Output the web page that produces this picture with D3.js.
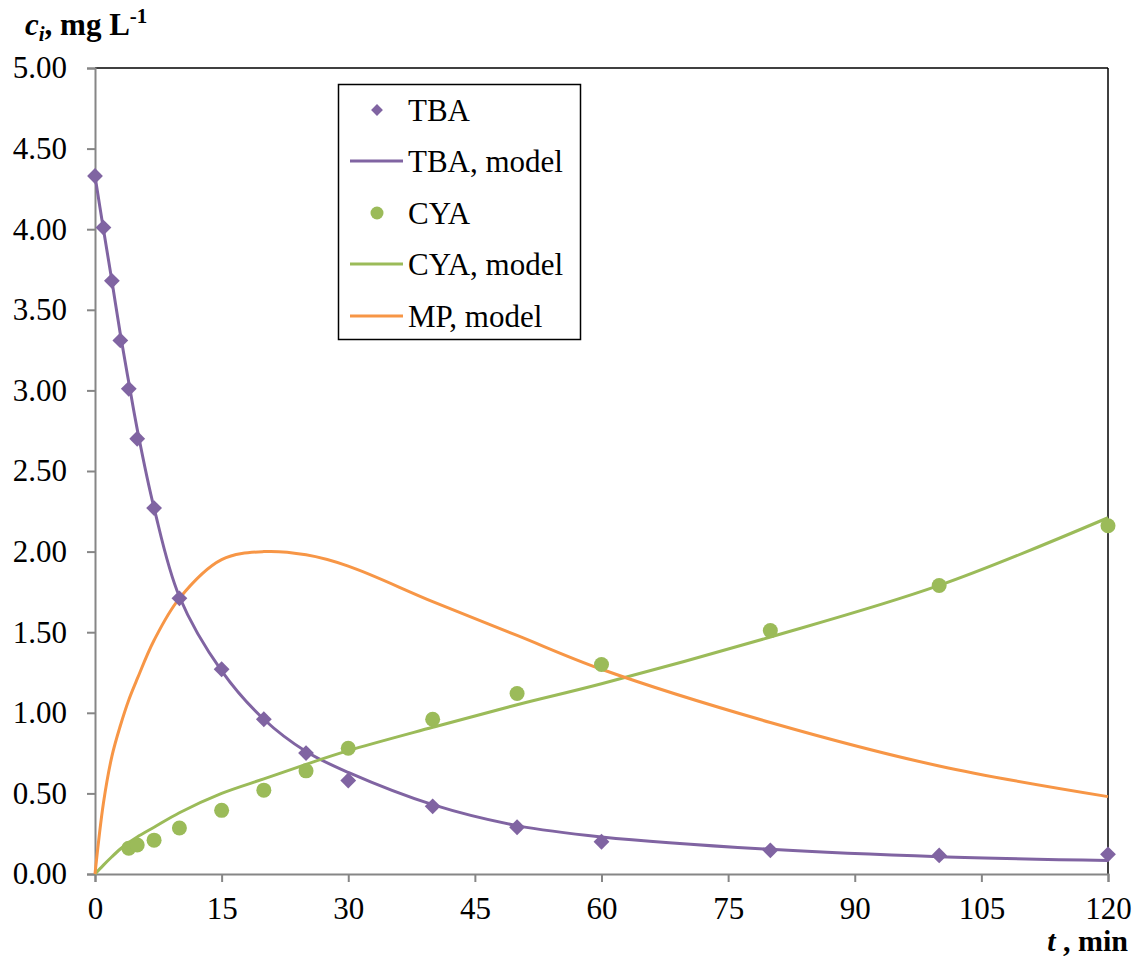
<!DOCTYPE html>
<html>
<head>
<meta charset="utf-8">
<script src="https://cdn.jsdelivr.net/npm/d3@7"></script>
<style>
  html, body { margin: 0; padding: 0; background: #fff; }
  svg { display: block; }
  text { font-family: "Liberation Serif", "Times New Roman", serif; fill: #000; }
</style>
</head>
<body>
<svg id="chart" width="1144" height="956"></svg>
<script>
// ---- Data ----
const xTicks = [0, 15, 30, 45, 60, 75, 90, 105, 120];
const yTicks = [0, 0.5, 1, 1.5, 2, 2.5, 3, 3.5, 4, 4.5, 5];

const tbaTimes = [0, 1, 2, 3, 4, 5, 7, 10, 15, 20, 25, 30, 40, 50, 60, 80, 100, 120];
const tbaValues = [4.33, 4.01, 3.68, 3.31, 3.01, 2.70, 2.27, 1.71, 1.27, 0.96, 0.75, 0.58, 0.42, 0.29, 0.20, 0.147, 0.115, 0.122];

const cyaTimes = [4, 5, 7, 10, 15, 20, 25, 30, 40, 50, 60, 80, 100, 120];
const cyaValues = [0.16, 0.18, 0.21, 0.285, 0.395, 0.52, 0.64, 0.78, 0.96, 1.12, 1.30, 1.51, 1.79, 2.16];

const modelTimes = [0, 1, 2, 3, 4, 5, 7, 10, 15, 20, 25, 30, 40, 50, 60, 80, 100, 120];
const tbaModel = [4.33, 4.00, 3.68, 3.35, 3.05, 2.76, 2.27, 1.72, 1.26, 0.96, 0.76, 0.63, 0.43, 0.30, 0.23, 0.153, 0.107, 0.083];
const cyaModel = [0, 0.055, 0.107, 0.155, 0.195, 0.23, 0.29, 0.38, 0.50, 0.59, 0.68, 0.765, 0.91, 1.05, 1.18, 1.47, 1.79, 2.21];
const mpModel = [0, 0.44, 0.73, 0.92, 1.08, 1.21, 1.45, 1.71, 1.95, 2.00, 1.98, 1.91, 1.69, 1.48, 1.27, 0.94, 0.67, 0.48];

const legendLabels = ["TBA", "TBA, model", "CYA", "CYA, model", "MP, model"];

// ---- Styles ----
const PURPLE = "#8064A2", GREEN = "#9BBB59", ORANGE = "#F79646", AXIS = "#868686";
const FONT = "'Liberation Serif', 'Times New Roman', serif";

const svg = d3.select("#chart");
const L = 95, R = 1108, T = 68, B = 874;

const x = d3.scaleLinear().domain([0, 120]).range([L, R]);
const y = d3.scaleLinear().domain([0, 5]).range([B, T]);

// Plot frame: top & right black
svg.append("line").attr("x1", L).attr("x2", R).attr("y1", T).attr("y2", T)
  .attr("stroke", "#000").attr("stroke-width", 1.5);
svg.append("line").attr("x1", R).attr("x2", R).attr("y1", T).attr("y2", B)
  .attr("stroke", "#000").attr("stroke-width", 1.5);

// Y axis
const yAxis = d3.axisLeft(y).tickValues(yTicks).tickFormat(d3.format(".2f")).tickSizeOuter(0).tickSize(8).tickPadding(20);
const gy = svg.append("g").attr("transform", `translate(${L},0)`).call(yAxis);
gy.attr("font-family", FONT);
gy.select(".domain").attr("stroke", AXIS).attr("stroke-width", 2);
gy.selectAll(".tick line").attr("stroke", AXIS).attr("stroke-width", 2);
gy.selectAll(".tick text").style("font-family", FONT).style("font-size", "31px").attr("fill", "#000");

// X axis
const xAxis = d3.axisBottom(x).tickValues(xTicks).tickFormat(d3.format("d")).tickSizeOuter(0).tickSize(8).tickPadding(15);
const gx = svg.append("g").attr("transform", `translate(0,${B})`).call(xAxis);
gx.attr("font-family", FONT);
gx.select(".domain").attr("stroke", AXIS).attr("stroke-width", 2);
gx.selectAll(".tick line").attr("stroke", AXIS).attr("stroke-width", 2);
gx.selectAll(".tick text").style("font-family", FONT).style("font-size", "31px").attr("fill", "#000");

// Model lines
const line = d3.line().x(d => x(d[0])).y(d => y(d[1])).curve(d3.curveCatmullRom.alpha(0.5));
const models = [[tbaModel, PURPLE], [cyaModel, GREEN], [mpModel, ORANGE]];
models.forEach(([vals, col]) => {
  svg.append("path").datum(modelTimes.map((t, i) => [t, vals[i]]))
    .attr("d", line).attr("fill", "none").attr("stroke", col).attr("stroke-width", 3);
});

// TBA diamonds
const diamond = d3.symbol().type(d3.symbolSquare).size(125);
svg.append("g").selectAll("path").data(tbaTimes.map((t, i) => [t, tbaValues[i]])).join("path")
  .attr("d", diamond)
  .attr("transform", d => `translate(${x(d[0])},${y(d[1])}) rotate(45)`)
  .attr("fill", PURPLE);

// CYA circles
svg.append("g").selectAll("circle").data(cyaTimes.map((t, i) => [t, cyaValues[i]])).join("circle")
  .attr("cx", d => x(d[0])).attr("cy", d => y(d[1])).attr("r", 7.5)
  .attr("fill", GREEN);

// Legend
const lg = svg.append("g");
lg.append("rect").attr("x", 338.5).attr("y", 84.5).attr("width", 242).attr("height", 255)
  .attr("fill", "#fff").attr("stroke", "#000").attr("stroke-width", 1.5);
const rowY = [110, 161, 213, 264, 316];
const kinds = ["diamond", "line", "circle", "line", "line"];
const cols = [PURPLE, PURPLE, GREEN, GREEN, ORANGE];
legendLabels.forEach((lab, i) => {
  const yy = rowY[i];
  if (kinds[i] === "diamond") {
    lg.append("path").attr("d", d3.symbol().type(d3.symbolSquare).size(70))
      .attr("transform", `translate(377,${yy}) rotate(45)`).attr("fill", cols[i]);
  } else if (kinds[i] === "circle") {
    lg.append("circle").attr("cx", 377).attr("cy", yy).attr("r", 6.5).attr("fill", cols[i]);
  } else {
    lg.append("line").attr("x1", 350).attr("x2", 403).attr("y1", yy).attr("y2", yy)
      .attr("stroke", cols[i]).attr("stroke-width", 3);
  }
  lg.append("text").attr("x", 408).attr("y", yy + 11).style("font-size", "31px").text(lab);
});

// Y title: c_i, mg L^-1
const yt = svg.append("text").attr("x", 25).attr("y", 35).style("font-size", "31px").attr("font-weight", "bold");
yt.append("tspan").attr("font-style", "italic").text("c");
yt.append("tspan").attr("font-style", "italic").style("font-size", "21px").attr("dy", 6).text("i");
yt.append("tspan").attr("dy", -6).text(", mg L");
yt.append("tspan").style("font-size", "21px").attr("dy", -12).text("-1");

// X title: t , min
const xt = svg.append("text").attr("x", 1128).attr("y", 951).style("font-size", "30px")
  .attr("font-weight", "bold").attr("text-anchor", "end");
xt.append("tspan").attr("font-style", "italic").text("t");
xt.append("tspan").text(" , min");
</script>
</body>
</html>
